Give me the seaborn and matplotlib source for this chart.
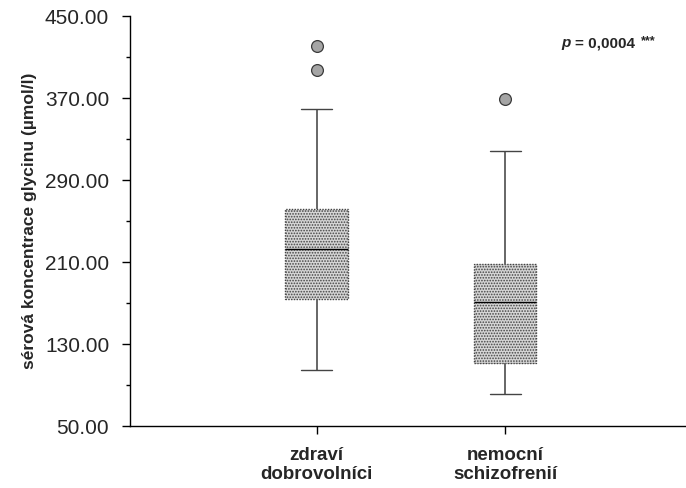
import numpy as np
import pandas as pd
import matplotlib
matplotlib.use('Agg')
import matplotlib.pyplot as plt
import seaborn as sns

# data
groups = ['zdraví\ndobrovolníci', 'nemocní\nschizofrenií']
# five-number summary per group: lower whisker, Q1, median, Q3, upper whisker
summary_healthy = [105, 174, 223, 262, 359]
summary_schizo = [81, 111, 171, 208, 318]
outliers_healthy = [397, 421]
outliers_schizo = [369]
y_ticks = [50, 130, 210, 290, 370, 450]

sns.set_style('white')
plt.rcParams['font.family'] = ['Liberation Sans', 'DejaVu Sans']
plt.rcParams['hatch.color'] = '#555555'
plt.rcParams['hatch.linewidth'] = 0.8

box_df = pd.DataFrame({
    'group': [groups[0]] * len(summary_healthy) + [groups[1]] * len(summary_schizo),
    'value': summary_healthy + summary_schizo,
})
out_df = pd.DataFrame({
    'group': [groups[0]] * len(outliers_healthy) + [groups[1]] * len(outliers_schizo),
    'value': outliers_healthy + outliers_schizo,
})

fig = plt.figure(figsize=(6.86, 4.88), dpi=100)
ax = fig.add_axes([130 / 686, 62 / 488, (686 - 130) / 686, (426 - 16) / 488])

sns.boxplot(data=box_df, x='group', y='value', order=groups, whis=(0, 100),
            width=0.33, showfliers=False, color='#d6d6d6', linecolor='#444444',
            linewidth=1.0, capwidths=0.165,
            medianprops={'color': 'black', 'linewidth': 1.0},
            whiskerprops={'color': '#666666', 'linewidth': 1.4},
            capprops={'color': '#444444', 'linewidth': 1.0},
            ax=ax)
for patch in ax.patches:
    patch.set_hatch('......')
    patch.set_linestyle((0, (1, 1)))

sns.stripplot(data=out_df, x='group', y='value', order=groups, jitter=False,
              size=8.5, color='#a5a5a5', edgecolor='#3a3a3a', linewidth=0.9, ax=ax)

ax.set_xlim(-0.99, 1.96)
ax.set_ylim(50, 450)
ax.set_yticks(y_ticks)
ax.set_yticklabels([f'{v:.2f}' for v in y_ticks], fontsize=15)
ax.set_yticks([v + 40 for v in y_ticks[:-1]], minor=True)
ax.set_xticks(range(len(groups)))
ax.set_xticklabels(groups, fontsize=13.5, fontweight='bold', linespacing=1.2)
ax.set_xlabel('')
ax.set_ylabel('sérová koncentrace glycinu (µmol/l)', fontsize=12.5,
              fontweight='bold', labelpad=6)

for s in ['top', 'right']:
    ax.spines[s].set_visible(False)
for s in ['left', 'bottom']:
    ax.spines[s].set_color('black')
    ax.spines[s].set_linewidth(1.0)

ax.tick_params(axis='y', which='major', direction='out', length=6, width=1,
               color='black', pad=9, left=True)
ax.tick_params(axis='y', which='minor', direction='out', length=3, width=1,
               color='black', left=True)
ax.tick_params(axis='x', which='major', direction='out', length=6, width=1,
               color='black', pad=9, bottom=True)

fig.text(561 / 686, 1 - 43 / 488, 'p', fontsize=11, fontweight='bold',
         fontstyle='italic', va='center', ha='left')
fig.text(575 / 686, 1 - 43 / 488, '= 0,0004', fontsize=11, fontweight='bold',
         va='center', ha='left')
fig.text(641 / 686, 1 - 41 / 488, '***', fontsize=9, fontweight='bold',
         va='center', ha='left')

fig.savefig('out.png', dpi=100)
